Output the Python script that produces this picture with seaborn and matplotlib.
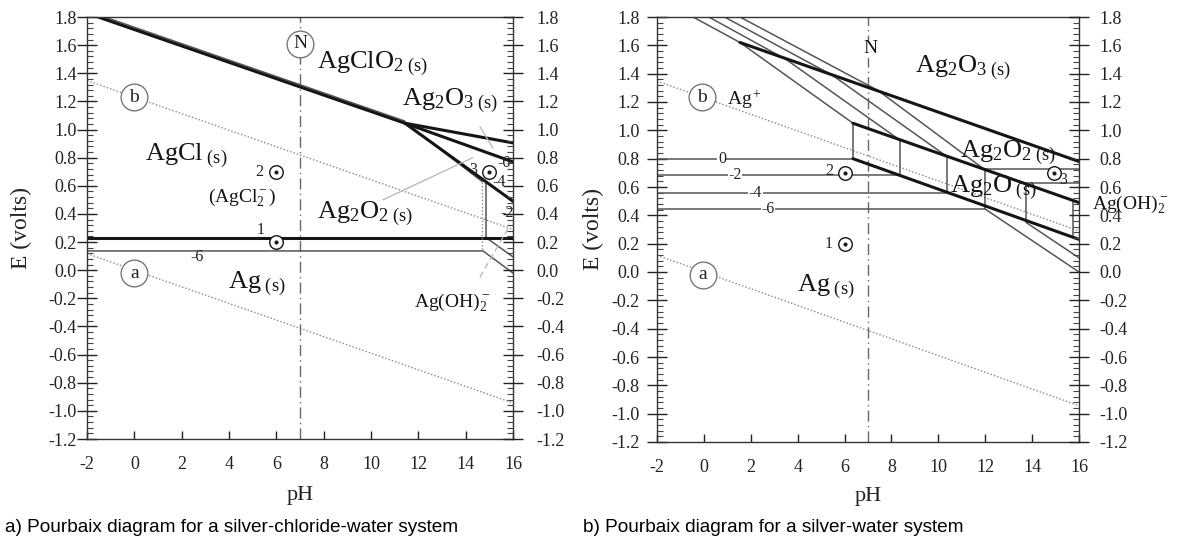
import matplotlib
matplotlib.use('Agg')
import matplotlib.pyplot as plt
import seaborn as sns
from matplotlib.ticker import FixedLocator, MultipleLocator

# ---------------- axes / ticks ----------------
x_ticks = [-2, 0, 2, 4, 6, 8, 10, 12, 14, 16]
x_tick_labels = ['-2', '0', '2', '4', '6', '8', '10', '12', '14', '16']
y_ticks = [1.8, 1.6, 1.4, 1.2, 1.0, 0.8, 0.6, 0.4, 0.2, 0.0,
           -0.2, -0.4, -0.6, -0.8, -1.0, -1.2]
y_tick_labels = ['1.8', '1.6', '1.4', '1.2', '1.0', '0.8', '0.6', '0.4', '0.2', '0.0',
                 '-0.2', '-0.4', '-0.6', '-0.8', '-1.0', '-1.2']
ph_range = [-2, 16]
e_range = [-1.2, 1.8]
neutral_ph = 7

# water stability lines (dotted)
water_x = [-2, 16]
water_b_y = [1.348, 0.29]
water_a_y = [0.118, -0.944]

# ---------------- panel a: silver-chloride-water ----------------
a_thick_x = [[-1.53, 11.43], [-2, 16], [11.43, 16], [11.43, 16], [11.43, 16]]
a_thick_y = [[1.80, 1.045], [0.227, 0.227], [1.045, 0.905], [1.045, 0.77], [1.045, 0.49]]
a_thin_x = [[-1.25, 11.43], [-2, 14.73, 16], [14.9, 16], [14.88, 14.88], [11.6, 14.7]]
a_thin_y = [[1.80, 1.060], [0.137, 0.137, -0.02], [0.227, 0.095], [0.627, 0.227], [1.03, 0.63]]
a_dotv_x = [[14.7, 14.7]]
a_dotv_y = [[0.63, 0.137]]
a_lead_x = [[10.5, 14.3], [14.6, 15.15], [14.6, 15.8]]
a_lead_y = [[0.50, 0.80], [1.02, 0.87], [-0.05, 0.30]]
a_pts_ph = [6, 6, 15]
a_pts_e = [0.20, 0.70, 0.70]
a_pt_labels = ['1', '2', '3']
a_pt_label_ph = [5.5, 5.44, 14.5]
a_pt_label_e = [0.285, 0.70, 0.71]
a_circ_labels = ['N', 'b', 'a']
a_circ_ph = [7, 0, 0]
a_circ_e = [1.61, 1.23, -0.02]
a_big_labels = ['AgClO$_{2\\ \\rm (s)}$', 'Ag$_2$O$_{3\\ \\rm (s)}$', 'AgCl$_{\\rm\\ (s)}$',
                'Ag$_2$O$_{2\\ \\rm (s)}$', 'Ag$_{\\rm\\ (s)}$']
a_big_ph = [7.7, 11.3, 0.45, 7.7, 3.96]
a_big_e = [1.435, 1.17, 0.78, 0.37, -0.13]
a_mid_labels = ['(AgCl$_2^-$)', 'Ag(OH)$_2^-$']
a_mid_ph = [3.1, 11.8]
a_mid_e = [0.49, -0.26]
a_conc_labels = ['-6', '-6', '-4', '-2']
a_conc_ph = [2.65, 15.6, 15.4, 15.75]
a_conc_e = [0.095, 0.76, 0.63, 0.41]

# ---------------- panel b: silver-water ----------------
b_thick_x = [[1.54, 16], [6.36, 16], [6.36, 16]]
b_thick_y = [[1.62, 0.78], [1.05, 0.49], [0.80, 0.23]]
b_thin_x = [[-0.46, 1.54, 6.36], [0.21, 3.51, 8.37], [0.88, 5.47, 10.37], [1.54, 7.44, 12.0],
            [-2, 6.36, 6.36], [-2, 8.37, 8.37], [-2, 10.37, 10.37], [-2, 12.0, 12.0],
            [12.0, 16], [12.0, 16], [13.74, 13.74], [13.74, 16], [13.74, 16], [15.75, 15.75]]
b_thin_y = [[1.80, 1.62, 1.05], [1.80, 1.50, 0.93], [1.80, 1.39, 0.815], [1.80, 1.28, 0.72],
            [0.80, 0.80, 1.05], [0.685, 0.685, 0.93], [0.558, 0.558, 0.815], [0.444, 0.444, 0.72],
            [0.73, 0.73], [0.444, 0.0], [0.35, 0.62], [0.63, 0.63], [0.35, 0.10], [0.255, 0.50]]
b_pts_ph = [6, 6, 14.94]
b_pts_e = [0.20, 0.70, 0.70]
b_pt_labels = ['1', '2', '3']
b_pt_label_ph = [5.5, 5.5, 15.5]
b_pt_label_e = [0.20, 0.71, 0.65]
b_circ_labels = ['b', 'a']
b_circ_ph = [-0.08, -0.04]
b_circ_e = [1.235, -0.02]
b_big_labels = ['Ag$_2$O$_{3\\ \\rm (s)}$', 'Ag$_2$O$_{2\\ \\rm (s)}$', 'Ag$_2$O$_{\\rm\\ (s)}$',
                'Ag$_{\\rm\\ (s)}$']
b_big_ph = [9.0, 10.93, 10.5, 3.97]
b_big_e = [1.41, 0.81, 0.56, -0.14]
b_mid_labels = ['Ag$^+$', 'Ag(OH)$_2^-$', 'N']
b_mid_ph = [0.99, 16.56, 7.09]
b_mid_e = [1.18, 0.45, 1.575]
b_conc_labels = ['0', '-2', '-4', '-6']
b_conc_ph = [0.77, 1.33, 2.2, 2.74]
b_conc_e = [0.80, 0.684, 0.558, 0.444]

captions = ['a) Pourbaix diagram for a silver-chloride-water system',
            'b) Pourbaix diagram for a silver-water system']

# ---------------- style ----------------
sns.set_theme(style='ticks')
plt.rcParams['font.family'] = ['Liberation Serif', 'DejaVu Serif']
plt.rcParams['mathtext.fontset'] = 'custom'
plt.rcParams['mathtext.rm'] = 'Liberation Serif'
plt.rcParams['mathtext.it'] = 'Liberation Serif:italic'
plt.rcParams['mathtext.bf'] = 'Liberation Serif:bold'
plt.rcParams['axes.unicode_minus'] = False

INK = '#151515'
THIN = '#555555'
LIGHT = '#b5b5b5'
BIG, MID, SMALL = 19, 14, 11.5
TICK = 13

fig = plt.figure(figsize=(11.79, 5.48), dpi=100)
ax_a = fig.add_axes([87 / 1179, 1 - 439 / 548, 426 / 1179, 422 / 548])
ax_b = fig.add_axes([657 / 1179, 1 - 442 / 548, 422 / 1179, 425 / 548])


def seg(ax, xs, ys, **kw):
    sns.lineplot(x=xs, y=ys, ax=ax, sort=False, estimator=None, legend=False, **kw)


def setup(ax, pad_left, pad_right, xlab_y, ylab_x):
    ax.set_xlim(ph_range)
    ax.set_ylim(e_range)
    for s in ax.spines.values():
        s.set_color('#333333')
        s.set_linewidth(1.0)
    ax.xaxis.set_major_locator(FixedLocator(x_ticks))
    ax.set_xticklabels(x_tick_labels)
    ax.yaxis.set_major_locator(FixedLocator(y_ticks))
    ax.set_yticklabels(y_tick_labels)
    ax.yaxis.set_minor_locator(MultipleLocator(0.04))
    ax.tick_params(axis='x', which='major', direction='in', length=6, width=1,
                   pad=12, labelsize=TICK, colors='#222222', top=False)
    ax.tick_params(axis='y', which='major', direction='inout', length=15, width=1,
                   pad=pad_left, labelsize=TICK, colors='#222222', right=False)
    ax.tick_params(axis='y', which='minor', direction='in', length=4, width=0.8,
                   colors='#444444', right=False)
    ax.set_xlabel('pH', fontsize=16, color='#222222')
    ax.xaxis.set_label_coords(0.5, xlab_y)
    ax.set_ylabel('E (volts)', fontsize=17, color='#222222')
    ax.yaxis.set_label_coords(ylab_x, 0.5)
    twin = ax.twinx()
    twin.set_ylim(e_range)
    twin.yaxis.set_major_locator(FixedLocator(y_ticks))
    twin.set_yticklabels(y_tick_labels)
    twin.yaxis.set_minor_locator(MultipleLocator(0.04))
    twin.tick_params(axis='y', which='major', direction='inout', length=15, width=1,
                     pad=pad_right, labelsize=TICK, colors='#222222')
    twin.tick_params(axis='y', which='minor', direction='in', length=4, width=0.8,
                     colors='#444444')
    for s in twin.spines.values():
        s.set_visible(False)
    twin.grid(False)
    ax.grid(False)


def common(ax):
    seg(ax, water_x, water_b_y, color='#888888', linewidth=1.0, linestyle=(0, (1, 1.5)))
    seg(ax, water_x, water_a_y, color='#888888', linewidth=1.0, linestyle=(0, (1, 1.5)))
    ax.axvline(neutral_ph, color='#666666', linewidth=1.0, linestyle=(0, (8, 3, 1, 3)))


def points(ax, phs, es, labs, lph, le):
    sns.scatterplot(x=phs, y=es, ax=ax, s=95, facecolor='white', edgecolor=INK,
                    linewidth=1.0, zorder=6, legend=False)
    sns.scatterplot(x=phs, y=es, ax=ax, s=7, color=INK, edgecolor=INK, zorder=7, legend=False)
    for t, x, y in zip(labs, lph, le):
        ax.text(x, y, t, fontsize=SMALL, ha='right', va='center', color='#222222', zorder=7)


def circled(ax, labs, phs, es):
    sns.scatterplot(x=phs, y=es, ax=ax, s=370, facecolor='white', edgecolor='#777777',
                    linewidth=1.0, zorder=6, legend=False)
    for t, x, y in zip(labs, phs, es):
        ax.text(x, y, t, fontsize=MID, ha='center', va='center', color='#222222', zorder=7)


# ---------------- panel a ----------------
setup(ax_a, pad_left=0, pad_right=9, xlab_y=-0.112, ylab_x=-0.13)
common(ax_a)
for xs, ys in zip(a_thin_x, a_thin_y):
    seg(ax_a, xs, ys, color=THIN, linewidth=1.1)
for xs, ys in zip(a_thick_x, a_thick_y):
    seg(ax_a, xs, ys, color=INK, linewidth=2.2)
for xs, ys in zip(a_dotv_x, a_dotv_y):
    seg(ax_a, xs, ys, color='#888888', linewidth=1.0, linestyle=(0, (1, 1.5)))
for i, (xs, ys) in enumerate(zip(a_lead_x, a_lead_y)):
    seg(ax_a, xs, ys, color=LIGHT, linewidth=0.9,
        linestyle='-' if i < 2 else (0, (5, 3)))
points(ax_a, a_pts_ph, a_pts_e, a_pt_labels, a_pt_label_ph, a_pt_label_e)
circled(ax_a, a_circ_labels, a_circ_ph, a_circ_e)
for t, x, y in zip(a_big_labels, a_big_ph, a_big_e):
    ax_a.text(x, y, t, fontsize=BIG, ha='left', va='baseline', color='#151515', zorder=8)
for t, x, y in zip(a_mid_labels, a_mid_ph, a_mid_e):
    ax_a.text(x, y, t, fontsize=MID, ha='left', va='baseline', color='#151515', zorder=8)
for t, x, y in zip(a_conc_labels, a_conc_ph, a_conc_e):
    ax_a.text(x, y, t, fontsize=SMALL, ha='center', va='center', color='#222222', zorder=8)

# ---------------- panel b ----------------
setup(ax_b, pad_left=5, pad_right=7, xlab_y=-0.106, ylab_x=-0.126)
common(ax_b)
for xs, ys in zip(b_thin_x, b_thin_y):
    seg(ax_b, xs, ys, color=THIN, linewidth=1.1)
for xs, ys in zip(b_thick_x, b_thick_y):
    seg(ax_b, xs, ys, color=INK, linewidth=2.2)
points(ax_b, b_pts_ph, b_pts_e, b_pt_labels, b_pt_label_ph, b_pt_label_e)
circled(ax_b, b_circ_labels, b_circ_ph, b_circ_e)
for t, x, y in zip(b_big_labels, b_big_ph, b_big_e):
    ax_b.text(x, y, t, fontsize=BIG, ha='left', va='baseline', color='#151515', zorder=8)
for t, x, y in zip(b_mid_labels, b_mid_ph, b_mid_e):
    kw = dict(bbox=dict(facecolor='white', edgecolor='none', pad=0.5)) if t == 'N' else {}
    ax_b.text(x, y, t, fontsize=MID, ha='left' if t != 'N' else 'center',
              va='baseline' if t != 'N' else 'center', color='#151515', zorder=8,
              clip_on=False, **kw)
for t, x, y in zip(b_conc_labels, b_conc_ph, b_conc_e):
    ax_b.text(x, y, t, fontsize=SMALL, ha='center', va='center', color='#222222', zorder=8,
              bbox=dict(facecolor='white', edgecolor='none', pad=0.3))

# ---------------- captions ----------------
fig.text(5 / 1179, 1 - 527 / 548, captions[0], fontsize=13.7, family='Liberation Sans',
         ha='left', va='center', color='black')
fig.text(583 / 1179, 1 - 527 / 548, captions[1], fontsize=13.7, family='Liberation Sans',
         ha='left', va='center', color='black')

fig.savefig('out.png', dpi=100, facecolor='white')
